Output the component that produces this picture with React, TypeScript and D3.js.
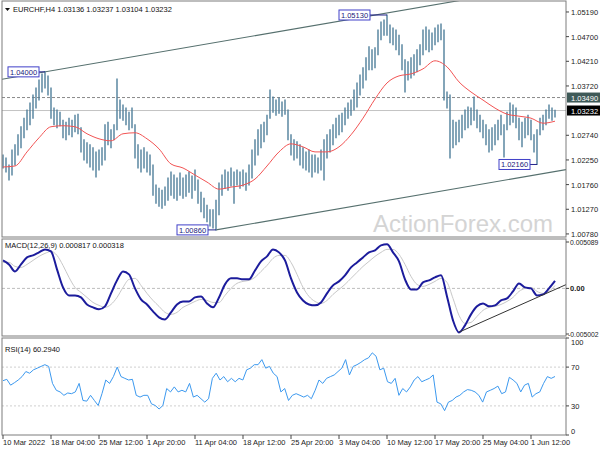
import * as d3 from "d3"

// EURCHF H4 bars, one entry per 8h step (highs / lows)
const highs = [
  1.0235, 1.0229, 1.0215, 1.0245, 1.0255, 1.0275, 1.0291, 1.0308, 1.0324, 1.0338,
  1.0354, 1.0368, 1.0384, 1.0396, 1.04, 1.0392, 1.0368, 1.0328, 1.0324, 1.032,
  1.0304, 1.03, 1.0308, 1.0304, 1.0314, 1.0316, 1.0289, 1.0265, 1.0259, 1.0255,
  1.0249, 1.0241, 1.0245, 1.0249, 1.0295, 1.03, 1.0285, 1.0295, 1.0386, 1.0344,
  1.0334, 1.0328, 1.032, 1.0328, 1.0295, 1.0255, 1.0245, 1.0249, 1.0241, 1.0235,
  1.0215, 1.0175, 1.0169, 1.0165, 1.0171, 1.0189, 1.0201, 1.0195, 1.0189, 1.0199,
  1.0189, 1.0195, 1.0201, 1.0193, 1.0205, 1.0185, 1.0161, 1.0149, 1.0135, 1.0126,
  1.0126, 1.0145, 1.0179, 1.0195, 1.0205, 1.0201, 1.0209, 1.0201, 1.0205, 1.0201,
  1.0205, 1.0199, 1.0215, 1.0245, 1.0265, 1.0285, 1.0295, 1.03, 1.0314, 1.0364,
  1.035, 1.0344, 1.0348, 1.034, 1.0344, 1.0324, 1.0275, 1.0265, 1.0261, 1.0255,
  1.0249, 1.0241, 1.0245, 1.0235, 1.0235, 1.0229, 1.0245, 1.0265, 1.0275, 1.0285,
  1.0295, 1.0308, 1.0314, 1.0318, 1.0328, 1.0338, 1.0344, 1.0364, 1.0378, 1.0394,
  1.0408, 1.0428, 1.045, 1.0444, 1.0448, 1.0483, 1.0499, 1.0503, 1.0513, 1.0493,
  1.0487, 1.0483, 1.0473, 1.0454, 1.0424, 1.042, 1.0428, 1.0434, 1.0444, 1.0454,
  1.0483, 1.0489, 1.0483, 1.0477, 1.0487, 1.0493, 1.0495, 1.0483, 1.036, 1.0354,
  1.0304, 1.03, 1.0304, 1.0314, 1.0324, 1.033, 1.0328, 1.035, 1.0324, 1.0314,
  1.0304, 1.0295, 1.0285, 1.0289, 1.0295, 1.0304, 1.0314, 1.0295, 1.032, 1.0338,
  1.0334, 1.0328, 1.0308, 1.03, 1.0308, 1.0314, 1.0304, 1.0275, 1.0285, 1.0308,
  1.0314, 1.0324, 1.0334, 1.0328, 1.03237,
]
const lows = [
  1.0209, 1.0201, 1.0185, 1.0195, 1.0215, 1.0235, 1.0249, 1.0269, 1.0285, 1.0295,
  1.0308, 1.0328, 1.0344, 1.036, 1.0368, 1.0354, 1.0308, 1.0295, 1.0289, 1.0293,
  1.0269, 1.0265, 1.0275, 1.0271, 1.0281, 1.0277, 1.0241, 1.0225, 1.0219, 1.0211,
  1.0205, 1.0191, 1.0205, 1.0215, 1.0225, 1.0255, 1.0249, 1.0265, 1.0285, 1.0308,
  1.0304, 1.0295, 1.0285, 1.0289, 1.0229, 1.0209, 1.0201, 1.0209, 1.0201, 1.0195,
  1.0155, 1.0139, 1.0133, 1.0129, 1.0135, 1.0145, 1.0155, 1.0149, 1.0145, 1.0155,
  1.0149, 1.0153, 1.0161, 1.0149, 1.0165, 1.0139, 1.0122, 1.011, 1.0102, 1.0094,
  1.009, 1.0086, 1.0116, 1.0155, 1.0169, 1.0165, 1.0173, 1.0139, 1.0175, 1.0169,
  1.0173, 1.0165, 1.0175, 1.0189, 1.0215, 1.0235, 1.0249, 1.0261, 1.0275, 1.0308,
  1.032, 1.0314, 1.0318, 1.0312, 1.0316, 1.0265, 1.0235, 1.0225, 1.0229, 1.0215,
  1.0209, 1.0205, 1.0201, 1.0191, 1.0201, 1.0199, 1.0205, 1.0185, 1.0229, 1.0241,
  1.0255, 1.0269, 1.0275, 1.0281, 1.0295, 1.0308, 1.0314, 1.0324, 1.033, 1.0354,
  1.0368, 1.0384, 1.0404, 1.0404, 1.0408, 1.0434, 1.0464, 1.0473, 1.0473, 1.0458,
  1.0454, 1.0444, 1.0434, 1.0404, 1.036, 1.0384, 1.0388, 1.0394, 1.04, 1.0414,
  1.0434, 1.0444, 1.044, 1.0444, 1.0454, 1.046, 1.0464, 1.0344, 1.0328, 1.0229,
  1.0249, 1.0255, 1.0261, 1.0269, 1.0285, 1.0289, 1.0295, 1.0304, 1.0289, 1.0281,
  1.0269, 1.0255, 1.0241, 1.0245, 1.0255, 1.0265, 1.0275, 1.0231, 1.0285, 1.0295,
  1.03, 1.0289, 1.0265, 1.0251, 1.0269, 1.0275, 1.0265, 1.0241, 1.0216, 1.0275,
  1.0285, 1.0295, 1.0308, 1.0304, 1.03104,
]

// moving average, sampled every 4th bar
const maValues = [
  1.0211, 1.0213, 1.0241, 1.0269, 1.0291, 1.0293, 1.0291, 1.0277, 1.0267, 1.0263,
  1.0277, 1.0279, 1.0267, 1.0247, 1.0217, 1.0209, 1.0195, 1.0181, 1.0167, 1.0171,
  1.0175, 1.0187, 1.0213, 1.0241, 1.0257, 1.0251, 1.0241, 1.0241, 1.0251, 1.0275,
  1.0308, 1.0346, 1.0378, 1.0392, 1.0396, 1.0406, 1.0422, 1.041, 1.038, 1.036,
  1.0344, 1.0328, 1.0316, 1.0312, 1.0308, 1.0298, 1.0302,
]

// MACD(12,26,9), sampled every 2nd bar
const macdValues = [
  0.00307, 0.00263, 0.00186, 0.00263, 0.0034, 0.00362, 0.00395, 0.00428, 0.00406, 0.00208,
  0.00011, -0.00077, -0.00077, -0.00099, -0.00176, -0.00208, -0.0023, -0.00197, -0.00055, 0.00088,
  0.00186, 0.00154, 0.0, -0.00121, -0.00176, -0.00252, -0.00318, -0.0034, -0.00263, -0.00176,
  -0.00143, -0.00143, -0.00099, -0.00088, -0.00165, -0.00208, -0.00099, 0.00044, 0.0011, 0.0011,
  0.00099, 0.00099, 0.00197, 0.00296, 0.00351, 0.00428, 0.00395, 0.00307, 0.0011, -0.00044,
  -0.00132, -0.00176, -0.00186, -0.00154, -0.00055, 0.00033, 0.00077, 0.00143, 0.0023, 0.00285,
  0.0034, 0.00395, 0.00417, 0.00472, 0.00483, 0.00395, 0.00296, 0.00099, -0.00011, -0.00011,
  0.00066, 0.00088, 0.00121, 0.00143, -0.00088, -0.00351, -0.00483, -0.00406, -0.00285, -0.00197,
  -0.00165, -0.00197, -0.00186, -0.00132, -0.0011, -0.00033, 0.00055, 0.00011, 0.0, -0.00077,
  -0.00066, 0.0, 0.000817,
]
const signalValues = [
  0.00285, 0.00285, 0.00241, 0.0023, 0.00263, 0.00307, 0.00351, 0.00384, 0.00406, 0.00362,
  0.00252, 0.00121, 0.00011, -0.00044, -0.00099, -0.00154, -0.00186, -0.00208, -0.00176, -0.00099,
  0.00011, 0.00099, 0.0011, 0.00033, -0.00055, -0.00132, -0.00197, -0.00263, -0.00285, -0.00263,
  -0.00208, -0.00176, -0.00143, -0.00121, -0.00132, -0.00154, -0.00154, -0.00077, 0.0, 0.00055,
  0.00077, 0.00088, 0.00121, 0.00186, 0.00252, 0.00329, 0.00362, 0.00362, 0.00285, 0.00154,
  0.00011, -0.00088, -0.00143, -0.00165, -0.00132, -0.00066, -0.00011, 0.00044, 0.0011, 0.00176,
  0.00241, 0.00296, 0.00351, 0.00395, 0.00428, 0.00428, 0.00373, 0.00263, 0.00132, 0.00044,
  0.00022, 0.00044, 0.00077, 0.0011, 0.00066, -0.0011, -0.00296, -0.00384, -0.00373, -0.00307,
  -0.00241, -0.00208, -0.00197, -0.00176, -0.00143, -0.00099, -0.00033, 0.0, 0.00011, -0.00033,
  -0.00055, -0.00033, 0.000318,
]

// RSI(14), evenly sampled across the bars
const rsiValues = [
  56, 57.4, 51.4, 53.9, 56.7, 60.2, 65.4, 63.7, 67.2, 68.9, 70.7, 72.5, 70.7, 53.2, 46.1,
  44.4, 40.9, 43.3, 42.6, 44.4, 53.2, 35.6, 34.9, 40.9, 35.6, 30.4, 42.6, 56.7, 53.2, 60.2,
  70, 60.2, 58.4, 56.7, 57.4, 40.9, 39.1, 40.9, 40.9, 32.1, 30.4, 26.8, 30.4, 47.9, 44.4,
  49.6, 44.4, 46.1, 44.4, 53.2, 39.1, 40.9, 37.4, 33.9, 37.4, 58.4, 63.7, 56.7, 60.2, 54.9,
  58.4, 54.9, 58.4, 56.7, 67.2, 68.9, 72.5, 72.5, 77.7, 68.9, 70.7, 63.7, 60.2, 44.4, 47.9,
  35.6, 40.9, 42.6, 40.9, 39.1, 40.9, 37.4, 46.1, 56.7, 53.2, 58.4, 60.2, 61.9, 65.4, 68.9,
  77.7, 61.9, 70.7, 72.5, 74.9, 77.7, 79.5, 84.7, 81.2, 67.2, 68.9, 54.9, 53.2, 58.4, 40.9,
  47.9, 44.4, 49.6, 56.7, 60.2, 54.9, 56.7, 58.4, 61.9, 33.9, 32.1, 25.1, 33.9, 35.6, 39.1,
  40.9, 44.4, 46.8, 46.1, 44.4, 40.9, 33.9, 44.4, 46.1, 47.9, 50.4, 42.6, 44.4, 59.5, 56.7,
  53.2, 44.4, 51.4, 53.2, 39.1, 42.6, 44.4, 53.2, 60.2, 58.4, 60.294,
]

const priceTicks = [1.0519, 1.047, 1.0421, 1.0372, 1.0274, 1.0225, 1.0176, 1.0127, 1.0078]
const macdTicks = [0.005089, 0, -0.005002]
const rsiTicks = [100, 70, 30, 0]
const timeTickBars = [0, 16, 32, 48, 64, 80, 96, 112, 128, 144, 160, 176]
const timeTickLabels = [
  "10 Mar 2022", "18 Mar 04:00", "25 Mar 12:00", "1 Apr 20:00", "11 Apr 04:00", "18 Apr 12:00",
  "25 Apr 20:00", "3 May 04:00", "10 May 12:00", "17 May 20:00", "25 May 04:00", "1 Jun 12:00",
]
const swingBars = [14, 128, 71, 178]
const swingPrices = [1.04, 1.0513, 1.0086, 1.0216]
const channelUpper: [number, number][] = [[14, 1.04], [128, 1.0517]]
const channelLower: [number, number][] = [[71, 1.0086], [184, 1.0202]]
const macdTrend: [number, number][] = [[152, -0.0048], [178, -0.001]]
const resistanceLevel = 1.0349
const lastPrice = 1.03232
const header = "EURCHF,H4  1.03136 1.03237 1.03104 1.03232"

const FONT = "'Liberation Sans', Arial, sans-serif"
const BAR = "#4f7f9b"
const FRAME = "#7d7d7d"

export default function App() {
  const left = 2
  const right = 566
  const mainP = { top: 1, bottom: 237 }
  const macdP = { top: 239, bottom: 336 }
  const rsiP = { top: 338, bottom: 435 }
  const last = highs.length - 1

  const x = d3.scaleLinear().domain([0, last]).range([3, 555])
  const y = d3.scaleLinear().domain([1.00719, 1.05428]).range([237, 0])
  const yM = d3.scaleLinear().domain([-0.005002, 0.005089]).range([334, 242])
  const yR = d3.scaleLinear().domain([0, 100]).range([rsiP.bottom, rsiP.top])

  const sx = (n: number, j: number) => x((j * last) / (n - 1))

  const maPath = d3.line<number>()
    .x((_, j) => sx(maValues.length, j))
    .y(d => y(d))
    .curve(d3.curveMonotoneX)(maValues) || ""
  const macdPath = d3.line<number>()
    .x((_, j) => sx(macdValues.length, j))
    .y(d => yM(d))
    .curve(d3.curveMonotoneX)(macdValues) || ""
  const signalPath = d3.line<number>()
    .x((_, j) => sx(signalValues.length, j))
    .y(d => yM(d))
    .curve(d3.curveMonotoneX)(signalValues) || ""
  const rsiPath = d3.line<number>()
    .x((_, j) => sx(rsiValues.length, j))
    .y(d => yR(d))(rsiValues) || ""

  // straight line through two [bar, value] anchors, drawn between two pixel x's
  const ray = (a: [number, number][], yS: d3.ScaleLinear<number, number>, x0: number, x1: number) => {
    const slope = (a[1][1] - a[0][1]) / (a[1][0] - a[0][0])
    const v = (px: number) => a[0][1] + (x.invert(px) - a[0][0]) * slope
    return `M${x0},${yS(v(x0))}L${x1},${yS(v(x1))}`
  }

  const boxW = 31
  const boxH = 10
  const boxGap = [6, 17, 8, 7]

  return (
    <svg width={600} height={450} style={{ position: "absolute", left: 0, top: 0, background: "#fff" }}
      fontFamily={FONT}>
      <defs>
        <clipPath id="mainClip"><rect x={left} y={mainP.top} width={right - left} height={mainP.bottom - mainP.top} /></clipPath>
        <clipPath id="macdClip"><rect x={left} y={macdP.top} width={right - left} height={macdP.bottom - macdP.top} /></clipPath>
      </defs>
      <rect width={600} height={450} fill="#fff" />

      {/* watermark */}
      <text x={373} y={232} fontSize={24} fill="#d4d4d4">ActionForex.com</text>

      {/* main panel */}
      <g clipPath="url(#mainClip)">
        <line x1={left} x2={right} y1={y(resistanceLevel)} y2={y(resistanceLevel)} stroke="#8a8a8a" strokeDasharray="3,2" />
        <line x1={left} x2={right} y1={y(lastPrice)} y2={y(lastPrice)} stroke="#c4c4c4" />
        <path d={ray(channelUpper, y, left, right)} stroke="#56706e" strokeWidth={1.1} fill="none" />
        <path d={ray(channelLower, y, x(channelLower[0][0]), right)} stroke="#56706e" strokeWidth={1.1} fill="none" />
        {highs.map((h, i) => (
          <line key={i} x1={x(i)} x2={x(i)} y1={y(h) - 0.5} y2={y(lows[i]) + 0.5} stroke={BAR} strokeWidth={1.4} />
        ))}
        <path d={maPath} stroke="#f25454" strokeWidth={1} fill="none" />
        {swingBars.map((b, k) => {
          const bx = x(b)
          const by = y(swingPrices[k])
          const bx1 = bx - boxGap[k]
          return (
            <g key={k}>
              <line x1={bx1} x2={bx} y1={by} y2={by} stroke="#22228a" />
              <rect x={bx1 - boxW} y={by - boxH / 2} width={boxW} height={boxH} fill="#fff" stroke="#4040c8" />
              <text x={bx1 - boxW / 2} y={by + 3} fontSize={7.5} textAnchor="middle" fill="#20207a">
                {swingPrices[k].toFixed(5)}
              </text>
            </g>
          )
        })}
      </g>
      <text x={13} y={12} fontSize={7.5} fill="#111">{header}</text>
      <path d="M5,8L10,8L7.5,11Z" fill="#111" />

      {/* MACD panel */}
      <g clipPath="url(#macdClip)">
        <line x1={left} x2={right} y1={yM(0)} y2={yM(0)} stroke="#bdbdbd" strokeDasharray="3,2" />
        <path d={signalPath} stroke="#c8c8c8" strokeWidth={1} fill="none" />
        <path d={macdPath} stroke="#1c1c9c" strokeWidth={2} fill="none" />
        <path d={ray(macdTrend, yM, x(macdTrend[0][0]), right)} stroke="#333" strokeWidth={1} fill="none" />
      </g>
      <text x={5} y={248} fontSize={7.5} fill="#111">MACD(12,26,9) 0.000817 0.000318</text>

      {/* RSI panel */}
      {[70, 30].map(l => (
        <line key={l} x1={left} x2={right} y1={yR(l)} y2={yR(l)} stroke="#cfcfcf" strokeDasharray="2,2" />
      ))}
      <path d={rsiPath} stroke="#3c99ef" strokeWidth={1} fill="none" />
      <text x={5} y={352} fontSize={7.5} fill="#111">RSI(14) 60.2940</text>

      {/* frames */}
      {[mainP, macdP, rsiP].map((p, k) => (
        <rect key={k} x={left} y={p.top} width={right - left} height={p.bottom - p.top} fill="none" stroke={FRAME} />
      ))}

      {/* price axis */}
      {priceTicks.map(t => (
        <g key={t}>
          <line x1={right} x2={right + 3} y1={y(t)} y2={y(t)} stroke="#444" />
          <text x={right + 5} y={y(t) + 3} fontSize={7.5} fill="#222">{t.toFixed(5)}</text>
        </g>
      ))}
      <rect x={right + 1} y={y(resistanceLevel) - 5} width={34} height={10} fill="#3f5a58" />
      <text x={right + 5} y={y(resistanceLevel) + 3} fontSize={7.5} fill="#fff">{resistanceLevel.toFixed(5)}</text>
      <rect x={right + 1} y={y(lastPrice) - 5} width={34} height={10} fill="#000" />
      <text x={right + 5} y={y(lastPrice) + 3} fontSize={7.5} fill="#fff">{lastPrice.toFixed(5)}</text>

      {/* MACD axis */}
      {macdTicks.map(t => (
        <g key={t}>
          <line x1={right} x2={right + 3} y1={yM(t)} y2={yM(t)} stroke="#444" />
          <text x={t < 0 ? right + 2 : right + 4} y={yM(t) + 3} fontSize={t === 0 ? 7.5 : 6.8} fill="#222"
            fontWeight={t === 0 ? "bold" : "normal"}>
            {t === 0 ? "0.00" : t.toFixed(6)}
          </text>
        </g>
      ))}

      {/* RSI axis */}
      {rsiTicks.map(t => (
        <g key={t}>
          <line x1={right} x2={right + 3} y1={yR(t)} y2={yR(t)} stroke="#444" />
          <text x={right + 5} y={yR(t) + (t === 100 ? 7 : t === 0 ? -1 : 3)} fontSize={7.5} fill="#222">{t}</text>
        </g>
      ))}

      {/* time axis */}
      {timeTickBars.map((b, k) => (
        <g key={b}>
          <line x1={x(b)} x2={x(b)} y1={rsiP.bottom} y2={rsiP.bottom + 4} stroke="#444" />
          <text x={x(b)} y={445} fontSize={7.5} fill="#222">{timeTickLabels[k]}</text>
        </g>
      ))}
    </svg>
  )
}
